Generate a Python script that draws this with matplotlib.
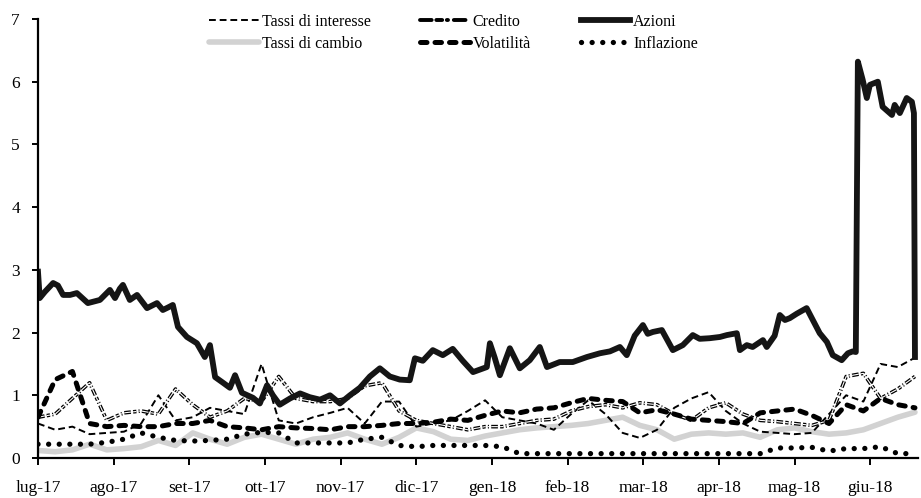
import matplotlib
matplotlib.use("Agg")
import matplotlib.pyplot as plt
import matplotlib.patheffects as pe
from matplotlib.lines import Line2D
import numpy as np

plt.rcParams['font.family'] = ['Liberation Serif', 'DejaVu Serif']

# asse x: indice giorno lavorativo, un mese = 22 giorni
mesi = ['lug-17', 'ago-17', 'set-17', 'ott-17', 'nov-17', 'dic-17',
        'gen-18', 'feb-18', 'mar-18', 'apr-18', 'mag-18', 'giu-18']
giorni_mese = 22

# Azioni (punti irregolari: giorno, valore)
azioni_t = [0, 0.5, 2, 4.4, 5.8, 7.3, 9.3, 11.3, 14.5, 18, 20.9, 22.4, 23.8, 24.7, 26.7,
            28.8, 31.7, 34.6, 36.3, 37.8, 39.2, 40.7, 43.3, 46.2, 48.5, 50, 51.5, 53.8,
            55.8, 57.3, 59.3, 62.5, 64.5, 66.6, 68.3, 70.3, 73.3, 76.2, 79, 82, 84.9,
            87.8, 90.7, 93.6, 96.5, 99.4, 102.3, 105.2, 108.1, 109.6, 111.9, 114.8,
            117.7, 120.6, 123.5, 126.5, 130.5, 131.4, 132.8, 134.3, 137.2, 140.1, 143,
            145.9, 148, 151.7, 155.5, 159.6, 163.4, 166.3, 169.2, 171.2, 173.5, 175.9,
            177.3, 178.8, 181.4, 182.8, 184.6, 187.5, 190.4, 192.4, 195.3, 198.3, 200.3,
            203.2, 204.1, 206.1, 207.8, 210.8, 211.9, 214.2, 215.7, 217.2, 218.6, 220.6,
            223.5, 225.3, 227.3, 229.4, 231.1, 233.7, 235.5, 236.9, 237.8, 238.4, 239.8,
            241, 241.9, 244.2, 245.6, 248.3, 249.1, 250.6, 252.6, 254.1, 254.7, 255]
azioni_v = [2.97, 2.55, 2.65, 2.79, 2.75, 2.6, 2.6, 2.63, 2.47, 2.52, 2.68, 2.55, 2.7, 2.76, 2.52,
            2.6, 2.39, 2.47, 2.36, 2.4, 2.44, 2.09, 1.93, 1.83, 1.61, 1.8, 1.29, 1.2,
            1.12, 1.32, 1.04, 0.96, 0.87, 1.16, 1.0, 0.85, 0.95, 1.03, 0.97, 0.93, 1.0,
            0.87, 1.0, 1.12, 1.3, 1.43, 1.3, 1.25, 1.24, 1.59, 1.55, 1.72,
            1.64, 1.74, 1.55, 1.37, 1.45, 1.83, 1.6, 1.32, 1.75, 1.43, 1.56,
            1.77, 1.45, 1.53, 1.53, 1.61, 1.67, 1.7, 1.77, 1.64, 1.95, 2.12,
            1.98, 2.01, 2.04, 1.9, 1.72, 1.8, 1.96, 1.9, 1.91, 1.93, 1.96,
            1.99, 1.72, 1.8, 1.77, 1.88, 1.77, 1.95, 2.28, 2.2, 2.23, 2.3,
            2.39, 2.2, 1.99, 1.85, 1.64, 1.56, 1.67, 1.7, 1.69, 6.32, 6.03,
            5.74, 5.95, 6.0, 5.6, 5.47, 5.63, 5.5, 5.74, 5.68, 5.5, 1.61]

# serie settimanali (ogni 5 giorni lavorativi)
tassi_interesse = [0.55, 0.45, 0.5, 0.38, 0.4, 0.42, 0.55, 1.0, 0.6, 0.65, 0.8, 0.75, 0.7,
                   1.5, 0.6, 0.55, 0.65, 0.72, 0.8, 0.55, 0.9, 0.9, 0.5, 0.55, 0.6, 0.75,
                   0.92, 0.65, 0.6, 0.55, 0.45, 0.7, 0.92, 0.7, 0.4, 0.32, 0.45, 0.8,
                   0.95, 1.05, 0.75, 0.55, 0.42, 0.4, 0.38, 0.4, 0.7, 1.0, 0.9, 1.5, 1.45, 1.6]
tassi_cambio = [0.12, 0.1, 0.13, 0.22, 0.13, 0.15, 0.18, 0.28, 0.2, 0.4, 0.3, 0.22, 0.33,
                0.38, 0.3, 0.22, 0.3, 0.33, 0.4, 0.3, 0.22, 0.33, 0.48, 0.42, 0.3, 0.28,
                0.35, 0.4, 0.45, 0.48, 0.5, 0.52, 0.55, 0.6, 0.65, 0.52, 0.45, 0.3, 0.38,
                0.4, 0.38, 0.4, 0.33, 0.45, 0.48, 0.42, 0.38, 0.4, 0.45, 0.55, 0.65, 0.73]
credito = [0.65, 0.7, 0.95, 1.2, 0.6, 0.72, 0.75, 0.7, 1.1, 0.85, 0.65, 0.75, 0.95, 0.9,
           1.3, 0.95, 0.9, 0.9, 0.95, 1.15, 1.2, 0.75, 0.6, 0.55, 0.5, 0.45, 0.5, 0.5,
           0.55, 0.6, 0.62, 0.75, 0.82, 0.85, 0.8, 0.88, 0.85, 0.7, 0.6, 0.8, 0.88, 0.7,
           0.6, 0.58, 0.55, 0.52, 0.6, 1.3, 1.35, 0.95, 1.1, 1.3]
volatilita = [0.65, 1.25, 1.38, 0.55, 0.5, 0.52, 0.5, 0.5, 0.55, 0.55, 0.6, 0.5, 0.48,
              0.45, 0.5, 0.48, 0.47, 0.45, 0.5, 0.5, 0.52, 0.55, 0.55, 0.57, 0.62, 0.6,
              0.68, 0.75, 0.72, 0.78, 0.8, 0.88, 0.95, 0.92, 0.9, 0.72, 0.77, 0.7, 0.62,
              0.6, 0.58, 0.55, 0.72, 0.75, 0.78, 0.68, 0.55, 0.85, 0.75, 0.95, 0.85, 0.8]
inflazione = [0.22, 0.22, 0.22, 0.22, 0.25, 0.3, 0.4, 0.33, 0.28, 0.27, 0.28, 0.3, 0.38,
              0.41, 0.4, 0.24, 0.24, 0.24, 0.24, 0.3, 0.33, 0.2, 0.18, 0.2, 0.2, 0.2,
              0.2, 0.18, 0.07, 0.07, 0.07, 0.07, 0.07, 0.07, 0.07, 0.07, 0.07, 0.07, 0.07,
              0.07, 0.07, 0.07, 0.07, 0.16, 0.16, 0.17, 0.11, 0.15, 0.15, 0.18, 0.07, 0.07]

t_sett = np.arange(len(tassi_cambio)) * 5

fig = plt.figure(figsize=(9.21, 4.98), dpi=100)
ax = fig.add_axes([38/921, 40/498, 880.4/921, 439/498])

l_cambio, = ax.plot(t_sett, tassi_cambio, color='#d2d2d2', lw=4.0, solid_capstyle='round',
                    label='Tassi di cambio')
l_infl, = ax.plot(t_sett, inflazione, color='black', lw=3.8, linestyle=(0, (0.01, 2.0)),
                  dash_capstyle='round', label='Inflazione')
l_int, = ax.plot(t_sett, tassi_interesse, color='black', lw=1.4, linestyle=(0, (3.5, 2.0)),
                 label='Tassi di interesse')
ax.plot(t_sett, credito, color='white', lw=0.8, linestyle=(0, (6, 2, 3, 2, 1, 2)),
        path_effects=[pe.Stroke(linewidth=2.6, foreground='black'), pe.Normal()])
l_vol, = ax.plot(t_sett, volatilita, color='black', lw=3.6, linestyle=(0, (1.3, 1.6)),
                 dash_capstyle='round', label='Volatilità')
l_az, = ax.plot(azioni_t, azioni_v, color='#151515', lw=4.2, solid_joinstyle='round',
                label='Azioni')

h_cred = Line2D([], [], color='black', lw=2.8, linestyle=(0, (3, 1.2, 1.5, 1.2, 0.3, 1.5)),
                dash_capstyle='round')

ax.set_xlim(0, 256)
ax.set_ylim(0, 7)
ax.set_xticks(np.arange(len(mesi)) * giorni_mese)
ax.set_xticklabels(mesi)
ax.set_yticks(range(0, 8))
ax.spines['top'].set_visible(False)
ax.spines['right'].set_visible(False)
ax.spines['left'].set_linewidth(1.6)
ax.spines['bottom'].set_linewidth(1.6)
ax.tick_params(axis='x', length=5, width=1.4, pad=11, labelsize=12.5)
ax.tick_params(axis='y', length=4, width=1.4, pad=9, labelsize=12.5)

handles = [l_int, l_cambio, h_cred, l_vol, l_az, l_infl]
labels = ['Tassi di interesse', 'Tassi di cambio', 'Credito', 'Volatilità', 'Azioni', 'Inflazione']
fig.legend(handles, labels, ncol=3, loc='upper left', bbox_to_anchor=(209/921, 1 - 14/498),
           frameon=False, fontsize=11.5, handlelength=3.1, handletextpad=0.2,
           columnspacing=3.1, labelspacing=0.38, borderpad=0, borderaxespad=0)

fig.savefig('out.png', dpi=100)
